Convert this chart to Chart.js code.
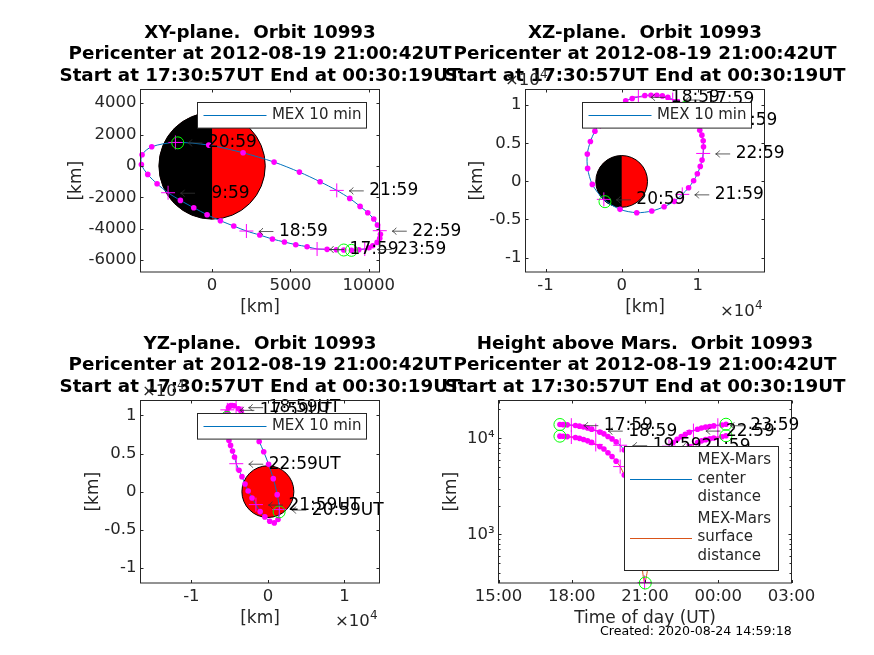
<!DOCTYPE html>
<html>
<head>
<meta charset="utf-8">
<script src="https://cdn.jsdelivr.net/npm/chart.js@4"></script>
<style>
html, body { margin: 0; padding: 0; background: #fff; }
canvas { position: absolute; left: 0; top: 0; }
</style>
</head>
<body>
<canvas id="xy" width="874" height="655"></canvas>
<canvas id="xz" width="874" height="655"></canvas>
<canvas id="yz" width="874" height="655"></canvas>
<canvas id="height" width="874" height="655"></canvas>
<script>
// orbit samples, 10 min apart, km
var orbitTimes = ["17:30:57", "17:39", "17:49", "17:59", "18:09", "18:19", "18:29", "18:39", "18:49", "18:59", "19:09", "19:19", "19:29", "19:39", "19:49", "19:59", "20:09", "20:19", "20:29", "20:39", "20:49", "20:59", "21:09", "21:19", "21:29", "21:39", "21:49", "21:59", "22:09", "22:19", "22:29", "22:39", "22:49", "22:59", "23:09", "23:19", "23:29", "23:39", "23:49", "23:59", "00:09", "00:19"];
var orbitX = [8408, 7940, 7344, 6705, 6066, 5343, 4619, 3853, 3044, 2192, 1384, 532, -319, -1171, -2022, -2810, -3512, -4108, -4513, -4470, -3853, -2341, -213, 1980, 3959, 5577, 6897, 7961, 8791, 9451, 9940, 10324, 10558, 10707, 10750, 10707, 10537, 10260, 10005, 9749, 9366, 8897];
var orbitY = [-5363, -5342, -5321, -5300, -5151, -5023, -4853, -4662, -4408, -4153, -3835, -3495, -3113, -2667, -2199, -1711, -1138, -544, 93, 709, 1219, 1495, 1325, 836, 242, -395, -1011, -1563, -2072, -2582, -2985, -3389, -3771, -4132, -4365, -4620, -4875, -5087, -5215, -5300, -5342, -5384];
var orbitZ = [9738, 10087, 10437, 10742, 11048, 11223, 11310, 11310, 11266, 11092, 10873, 10568, 10000, 9432, 8690, 7817, 6594, 5240, 3581, 1703, -393, -2358, -3668, -4105, -3886, -3319, -2620, -1703, -830, 87, 1004, 1965, 2795, 3668, 4541, 5328, 6070, 6725, 7380, 8035, 8603, 9432];
var centerDist = [13940, 13903, 13827, 13727, 13616, 13405, 13145, 12823, 12474, 12043, 11612, 11143, 10478, 9874, 9187, 8481, 7556, 6685, 5762, 4837, 4060, 3712, 3905, 4637, 5557, 6503, 7450, 8289, 9072, 9798, 10426, 11045, 11554, 12050, 12462, 12818, 13100, 13282, 13483, 13700, 13791, 14042];
var surfaceDist = [10544, 10507, 10431, 10331, 10220, 10009, 9749, 9427, 9078, 8647, 8216, 7747, 7082, 6478, 5791, 5085, 4160, 3289, 2366, 1441, 664, 316, 509, 1241, 2161, 3107, 4054, 4893, 5676, 6402, 7030, 7649, 8158, 8654, 9066, 9422, 9704, 9886, 10087, 10304, 10395, 10646];

// pericenter marker
var periTime = "21:00:42";
var periX = -2192, periY = 1470, periZ = -2664, periCenter = 3708, periSurface = 312;

var hourIndex = [3, 9, 15, 21, 27, 33, 39];
var hourLabels = ["17:59", "18:59", "19:59", "20:59", "21:59", "22:59", "23:59"];
var marsRadius = 3396;

var titleLines = ["Pericenter at 2012-08-19 21:00:42UT", "Start at 17:30:57UT End at 00:30:19UT"];
var xyTicksX = [0, 5000, 10000], xyTicksY = [-6000, -4000, -2000, 0, 2000, 4000];
var xzTicksX = [-10000, 0, 10000], xzTicksY = [-10000, -5000, 0, 5000, 10000];
var yzTicksX = [-10000, 0, 10000], yzTicksY = [-10000, -5000, 0, 5000, 10000];
var timeTicks = [15, 18, 21, 24, 27];
var heightTicks = [1000, 10000];
var heightMinor = [400, 500, 600, 700, 800, 900, 2000, 3000, 4000, 5000, 6000, 7000, 8000, 9000, 20000];

var BLUE = '#0072BD', ORANGE = '#D95319', MAGENTA = '#ff00ff', GREEN = '#00ff00', INK = '#262626';
var FONT = '"DejaVu Sans"';

function toHours(t) {
    var p = t.split(':');
    var h = +p[0] + (+p[1]) / 60 + (p[2] ? +p[2] / 3600 : 0);
    return h < 12 ? h + 24 : h;
}
var orbitHours = orbitTimes.map(toHours);

function pts(xs, ys) {
    return xs.map(function (v, i) { return { x: v, y: ys[i] }; });
}
function track(xs, ys, color) {
    return { data: pts(xs, ys), showLine: true, borderColor: color, borderWidth: 1, pointRadius: 0, tension: 0.3, clip: false };
}
function dots(xs, ys) {
    var d = pts(xs, ys).filter(function (p, i) { return hourIndex.indexOf(i) < 0; });
    return { data: d, showLine: false, pointStyle: 'circle', pointRadius: 2.8, backgroundColor: MAGENTA, borderColor: MAGENTA, borderWidth: 0, clip: false };
}
function pluses(xs, ys) {
    var d = hourIndex.map(function (i) { return { x: xs[i], y: ys[i] }; });
    return { data: d, showLine: false, pointStyle: 'cross', pointRadius: 7, borderColor: MAGENTA, borderWidth: 1, clip: false };
}
function rings(d) {
    return { data: d, showLine: false, pointStyle: 'circle', pointRadius: 6, backgroundColor: 'rgba(0,0,0,0)', borderColor: GREEN, borderWidth: 1, clip: false };
}
function endRings(xs, ys, px, py) {
    return rings([{ x: xs[0], y: ys[0] }, { x: xs[xs.length - 1], y: ys[ys.length - 1] }, { x: px, y: py }]);
}

var panelPlugin = {
    id: 'panel',
    beforeDatasetsDraw: function (chart) {
        var c = chart.options.plugins.panel;
        if (!c.mars) return;
        var ctx = chart.ctx, sx = chart.scales.x, sy = chart.scales.y;
        var cx = sx.getPixelForValue(0), cy = sy.getPixelForValue(0);
        var rx = sx.getPixelForValue(marsRadius) - cx, ry = cy - sy.getPixelForValue(marsRadius);
        ctx.save();
        ctx.fillStyle = '#ff0000';
        ctx.beginPath();
        ctx.ellipse(cx, cy, rx, ry, 0, 0, Math.PI * 2);
        ctx.fill();
        if (c.mars === 'half') {
            ctx.fillStyle = '#000';
            ctx.beginPath();
            ctx.ellipse(cx, cy, rx, ry, 0, Math.PI / 2, Math.PI * 1.5);
            ctx.fill();
        }
        ctx.strokeStyle = '#000';
        ctx.lineWidth = 1;
        ctx.beginPath();
        ctx.ellipse(cx, cy, rx, ry, 0, 0, Math.PI * 2);
        ctx.stroke();
        ctx.restore();
    },
    afterDatasetsDraw: function (chart) {
        var c = chart.options.plugins.panel;
        var ctx = chart.ctx, a = chart.chartArea, sx = chart.scales.x, sy = chart.scales.y;
        ctx.save();

        // hour labels, with a thin long arrow like the tex one
        ctx.font = '17px ' + FONT;
        ctx.textBaseline = 'middle';
        ctx.textAlign = 'left';
        hourIndex.forEach(function (i, k) {
            var px = sx.getPixelForValue(c.labelX[i]), py = sy.getPixelForValue(c.labelY[i]) + 0.5;
            ctx.strokeStyle = '#333';
            ctx.lineWidth = 0.8;
            ctx.beginPath();
            ctx.moveTo(px + 12.5, py); ctx.lineTo(px + 27, py);
            ctx.moveTo(px + 16.5, py - 3.5); ctx.quadraticCurveTo(px + 15, py - 1, px + 12.5, py);
            ctx.quadraticCurveTo(px + 15, py + 1, px + 16.5, py + 3.5);
            ctx.stroke();
            ctx.fillStyle = '#000';
            ctx.fillText(hourLabels[k] + c.suffix, px + 32.5, py);
        });

        // box and inward ticks
        ctx.strokeStyle = INK;
        ctx.lineWidth = 1;
        ctx.strokeRect(a.left, a.top, a.right - a.left, a.bottom - a.top);
        ctx.beginPath();
        sx.ticks.forEach(function (t) {
            var p = Math.round(sx.getPixelForValue(t.value)) + 0.5;
            ctx.moveTo(p, a.bottom); ctx.lineTo(p, a.bottom - 3);
            ctx.moveTo(p, a.top); ctx.lineTo(p, a.top + 3);
        });
        sy.ticks.forEach(function (t) {
            var p = Math.round(sy.getPixelForValue(t.value)) + 0.5;
            ctx.moveTo(a.left, p); ctx.lineTo(a.left + 3, p);
            ctx.moveTo(a.right, p); ctx.lineTo(a.right - 3, p);
        });
        (c.minorY || []).forEach(function (v) {
            var p = Math.round(sy.getPixelForValue(v)) + 0.5;
            ctx.moveTo(a.left, p); ctx.lineTo(a.left + 2, p);
            ctx.moveTo(a.right, p); ctx.lineTo(a.right - 2, p);
        });
        ctx.stroke();

        // legend sits on top of everything in the axes
        var L = c.legend;
        ctx.fillStyle = '#fff';
        ctx.fillRect(L.x, L.y, L.w, L.h);
        ctx.strokeStyle = INK;
        ctx.strokeRect(L.x, L.y, L.w, L.h);
        ctx.font = '15px ' + FONT;
        ctx.textBaseline = 'middle';
        L.items.forEach(function (it) {
            var ly = Math.round(it.y) + 0.5;
            ctx.strokeStyle = it.color;
            ctx.beginPath();
            ctx.moveTo(L.x + L.lineFrom, ly);
            ctx.lineTo(L.x + L.lineTo, ly);
            ctx.stroke();
            ctx.fillStyle = INK;
            it.text.forEach(function (s, n) {
                ctx.fillText(s, L.x + L.textAt, it.y + (n - (it.text.length - 1) / 2) * 18.2);
            });
        });

        // title
        ctx.fillStyle = '#000';
        ctx.font = 'bold 18.3px ' + FONT;
        ctx.textAlign = 'center';
        var mid = (a.left + a.right) / 2;
        [c.title].concat(titleLines).forEach(function (s, n) {
            ctx.fillText(s, mid, a.top - 56.5 + n * 21.6);
        });

        // x10^4 exponents
        ctx.fillStyle = INK;
        ctx.textAlign = 'left';
        (c.exponents || []).forEach(function (e) {
            ctx.font = '16.5px ' + FONT;
            ctx.fillText('\u00d710', e[0], e[1]);
            ctx.font = '12px ' + FONT;
            ctx.fillText('4', e[0] + 35, e[1] - 6);
        });
        if (c.note) {
            ctx.fillStyle = '#000';
            ctx.font = '12.6px ' + FONT;
            ctx.fillText(c.note, 600, 632);
        }
        ctx.restore();
    }
};

function axis(side, outer, min, max, ticks, format, type, titleText) {
    return {
        type: type || 'linear',
        position: side,
        min: min,
        max: max,
        grid: { display: false, drawTicks: false },
        border: { display: false },
        title: { display: true, text: titleText, color: INK, font: { family: FONT, size: 17 }, padding: 0 },
        afterBuildTicks: function (s) { s.ticks = ticks.map(function (v) { return { value: v }; }); },
        afterFit: function (s) {
            if (side === 'left') s.width = outer; else s.height = outer;
        },
        ticks: {
            color: INK,
            padding: 4,
            autoSkip: false,
            maxRotation: 0,
            minRotation: 0,
            font: { family: FONT, size: 16.5 },
            callback: format
        }
    };
}

function drawPanel(id, box, scales, datasets, panel) {
    var W = box.l - box.ylab + 10.2, H = box.xlab - box.b + 10.2;
    return new Chart(document.getElementById(id).getContext('2d'), {
        type: 'scatter',
        // chart.js paints the first dataset last, the track has to stay below the markers
        data: { datasets: datasets.slice().reverse() },
        plugins: [panelPlugin],
        options: {
            responsive: false,
            animation: false,
            devicePixelRatio: 1,
            layout: { padding: { left: box.l - W, top: box.t, right: 874 - box.r, bottom: 655 - box.b - H } },
            scales: {
                x: axis('bottom', H, scales.x[0], scales.x[1], scales.xt, scales.xf, null, scales.xtitle || '[km]'),
                y: axis('left', W, scales.y[0], scales.y[1], scales.yt, scales.yf, scales.ytype, '[km]')
            },
            plugins: { legend: { display: false }, tooltip: { enabled: false }, panel: panel }
        }
    });
}

function plain(v) { return String(v); }
function e4(v) { return String(v / 10000); }
function clock(v) {
    var h = v % 24;
    return (h < 10 ? '0' : '') + h + ':00';
}
function pow10(v) { return v === 10000 ? '10\u2074' : '10\u00b3'; }

function mexLegend(x, y) {
    return { x: x, y: y, w: 169, h: 25.6, lineFrom: 6, lineTo: 69, textAt: 74.4, items: [{ color: BLUE, y: y + 12.8, text: ['MEX 10 min'] }] };
}

drawPanel('xy',
    { l: 140.5, r: 379.5, t: 89.5, b: 272, ylab: 76.5, xlab: 307.5 },
    { x: [-4570, 10690], y: [-6765, 4870], xt: xyTicksX, yt: xyTicksY, xf: plain, yf: plain },
    [track(orbitX, orbitY, BLUE), dots(orbitX, orbitY), pluses(orbitX, orbitY), endRings(orbitX, orbitY, periX, periY)],
    { title: 'XY-plane.  Orbit 10993', mars: 'half', labelX: orbitX, labelY: orbitY, suffix: '', legend: mexLegend(197.5, 102.5) }
);

drawPanel('xz',
    { l: 525.5, r: 764.5, t: 89.5, b: 272, ylab: 477.5, xlab: 307.5 },
    { x: [-12630, 18760], y: [-11890, 12060], xt: xzTicksX, yt: xzTicksY, xf: e4, yf: e4 },
    [track(orbitX, orbitZ, BLUE), dots(orbitX, orbitZ), pluses(orbitX, orbitZ), endRings(orbitX, orbitZ, periX, periZ)],
    { title: 'XZ-plane.  Orbit 10993', mars: 'half', labelX: orbitX, labelY: orbitZ, suffix: '', legend: mexLegend(582.5, 102.5), exponents: [[505, 81], [720, 312]] }
);

drawPanel('yz',
    { l: 140.5, r: 379.5, t: 400.5, b: 583, ylab: 93.5, xlab: 618.5 },
    { x: [-16650, 14590], y: [-12000, 11970], xt: yzTicksX, yt: yzTicksY, xf: e4, yf: e4 },
    [track(orbitY, orbitZ, BLUE), dots(orbitY, orbitZ), pluses(orbitY, orbitZ), endRings(orbitY, orbitZ, periY, periZ)],
    { title: 'YZ-plane.  Orbit 10993', mars: 'full', labelX: orbitY, labelY: orbitZ, suffix: 'UT', legend: mexLegend(197.5, 413.5), exponents: [[142, 392], [335, 622]] }
);

drawPanel('height',
    { l: 498.5, r: 791.5, t: 400.5, b: 583, ylab: 451.5, xlab: 618.5 },
    { x: [15, 27], y: [312, 24800], xt: timeTicks, yt: heightTicks, xf: clock, yf: pow10, ytype: 'logarithmic', xtitle: 'Time of day (UT)' },
    [
        track(orbitHours, centerDist, BLUE), track(orbitHours, surfaceDist, ORANGE),
        dots(orbitHours, centerDist), dots(orbitHours, surfaceDist),
        pluses(orbitHours, centerDist), pluses(orbitHours, surfaceDist),
        endRings(orbitHours, centerDist, toHours(periTime), periCenter),
        endRings(orbitHours, surfaceDist, toHours(periTime), periSurface)
    ],
    {
        title: 'Height above Mars.  Orbit 10993', mars: null, labelX: orbitHours, labelY: centerDist, suffix: '', minorY: heightMinor,
        note: 'Created: 2020-08-24 14:59:18',
        legend: {
            x: 624.5, y: 446.5, w: 154, h: 124, lineFrom: 5.5, lineTo: 67.5, textAt: 73,
            items: [
                { color: BLUE, y: 478.8, text: ['MEX-Mars', 'center', 'distance'] },
                { color: ORANGE, y: 537.6, text: ['MEX-Mars', 'surface', 'distance'] }
            ]
        }
    }
);
</script>
</body>
</html>
